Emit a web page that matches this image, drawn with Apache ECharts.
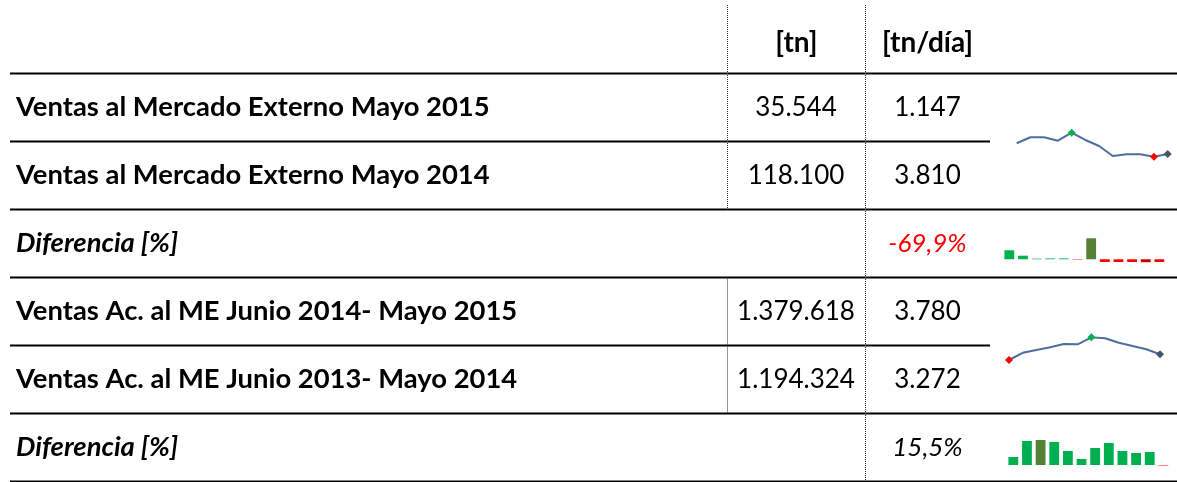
<!DOCTYPE html>
<html>
<head>
<meta charset="utf-8">
<title>Ventas al Mercado Externo</title>
<script src="https://cdn.jsdelivr.net/npm/echarts@6/dist/echarts.min.js"></script>
<style>
  html, body { margin: 0; padding: 0; background: #fff; }
  #main { width: 1177px; height: 482px; }
</style>
</head>
<body>
<div id="main"></div>
<script type="text/javascript">
// tabla
var headers = ['[tn]', '[tn/día]'];
var rowLabels = [
  'Ventas al Mercado Externo Mayo 2015',
  'Ventas al Mercado Externo Mayo 2014',
  'Diferencia [%]',
  'Ventas Ac. al ME Junio 2014- Mayo 2015',
  'Ventas Ac. al ME Junio 2013- Mayo 2014',
  'Diferencia [%]'
];
var colTn = ['35.544', '118.100', '', '1.379.618', '1.194.324', ''];
var colTnDia = ['1.147', '3.810', '-69,9%', '3.780', '3.272', '15,5%'];
var isDiff = [false, false, true, false, false, true];

// minigráficos (jun -> may)
var months = ['Jun', 'Jul', 'Ago', 'Sep', 'Oct', 'Nov', 'Dic', 'Ene', 'Feb', 'Mar', 'Abr', 'May'];
var mesLine = [2.65, 3.49, 3.49, 3.01, 4.13, 3.11, 2.27, 0.87, 1.10, 1.10, 0.77, 1.147];
var mesDif = [43, 17, 3, 4, 4, -2, 100, -13, -13, -13, -14, -13];
var acumLine = [3.55, 3.84, 3.95, 4.06, 4.19, 4.18, 4.46, 4.42, 4.24, 4.11, 3.98, 3.78];
var acumDif = [8, 24, 25, 23, 14, 6, 17, 22, 14, 12, 13, -0.5];

var FONT = 'Lato';
var rowTop = 73.5, rowH = 68;

var myChart = echarts.init(document.getElementById('main'));

function txt(s, x, y, opts) {
  opts = opts || {};
  return {
    type: 'text', silent: true, z: 10,
    style: {
      text: s, x: x, y: y,
      font: (opts.italic ? 'italic ' : '') + (opts.bold ? 'bold ' : '') + (opts.size || 26) + 'px ' + FONT,
      fill: opts.color || '#000',
      textAlign: opts.align || 'center', align: opts.align || 'center',
      textVerticalAlign: 'middle', verticalAlign: 'middle'
    }
  };
}
function hline(y, x2) {
  return { type: 'line', silent: true, shape: { x1: 10, y1: y, x2: x2, y2: y },
    style: { stroke: '#000', lineWidth: 2 } };
}
function vdots(x, y1, y2) {
  return { type: 'line', silent: true, shape: { x1: x, y1: y1, x2: x, y2: y2 },
    style: { stroke: '#333', lineWidth: 1, lineDash: [1, 1] } };
}

var graphics = [];
// encabezado
graphics.push(txt(headers[0], 796.5, 43, { bold: true, size: 28 }));
graphics.push(txt(headers[1], 927.5, 43, { bold: true, size: 28 }));
// líneas horizontales
for (var i = 0; i <= rowLabels.length; i++) {
  var y = rowTop + rowH * i;
  graphics.push(hline(y, (i === 1 || i === 4) ? 990 : 1177));
}
// punteadas
graphics.push(vdots(865.5, 5, 481));
graphics.push(vdots(727.5, 5, rowTop + rowH * 2));
graphics.push(vdots(727.5, rowTop + rowH * 3, rowTop + rowH * 5));
// filas
rowLabels.forEach(function (lab, i) {
  var cy = rowTop + rowH * i + rowH / 2;
  graphics.push(txt(lab, 16, cy, { bold: true, italic: isDiff[i], align: 'left', size: 27.4 }));
  if (colTn[i]) graphics.push(txt(colTn[i], 796, cy));
  var neg = colTnDia[i].charAt(0) === '-';
  graphics.push(txt(colTnDia[i], 927.5, cy, { italic: isDiff[i], color: neg ? '#FF0000' : '#000' }));
});

function lineData(arr) {
  var hi = arr.indexOf(Math.max.apply(null, arr));
  var lo = arr.indexOf(Math.min.apply(null, arr));
  return arr.map(function (v, i) {
    var c = null;
    if (i === arr.length - 1) c = '#44546A';
    if (i === hi) c = '#00B050';
    if (i === lo) c = '#FF0000';
    return c ? { value: v, symbolSize: 8, itemStyle: { color: c } } : { value: v, symbolSize: 0 };
  });
}
function barData(arr) {
  var hi = arr.indexOf(Math.max.apply(null, arr));
  var lo = arr.indexOf(Math.min.apply(null, arr));
  return arr.map(function (v, i) {
    var c = v >= 0 ? '#00B050' : '#FF0000';
    if (i === hi) c = '#548235';
    if (i === lo && v < -1) c = '#C00000';
    return { value: v, itemStyle: { color: c } };
  });
}
function range(arr) {
  return { min: Math.min.apply(null, arr), max: Math.max.apply(null, arr) };
}

var grids = [
  { left: 1016.7, top: 132.7, width: 151, height: 24 },
  { left: 1002.5, top: 238.3, width: 163.7, height: 23.9 },
  { left: 1009, top: 337.3, width: 151, height: 22.7 },
  { left: 1006.5, top: 440, width: 163.7, height: 25.5 }
];
var sets = [mesLine, mesDif, acumLine, acumDif];
var types = ['line', 'bar', 'line', 'bar'];

var option = {
  backgroundColor: '#fff',
  animation: false,
  grid: grids,
  xAxis: sets.map(function (s, i) {
    return { gridIndex: i, type: 'category', data: months, show: false, boundaryGap: types[i] === 'bar' };
  }),
  yAxis: sets.map(function (s, i) {
    var r = range(s);
    return { gridIndex: i, type: 'value', show: false, min: r.min, max: r.max, splitLine: { show: false } };
  }),
  series: sets.map(function (s, i) {
    if (types[i] === 'line') {
      return {
        type: 'line', xAxisIndex: i, yAxisIndex: i,
        data: lineData(s), symbol: 'diamond', showAllSymbol: true,
        lineStyle: { color: '#4E6E9E', width: 2 }, itemStyle: { color: '#4E6E9E' }
      };
    }
    return {
      type: 'bar', xAxisIndex: i, yAxisIndex: i,
      data: barData(s), barWidth: '72%'
    };
  }),
  graphic: graphics
};

myChart.setOption(option);
</script>
</body>
</html>
